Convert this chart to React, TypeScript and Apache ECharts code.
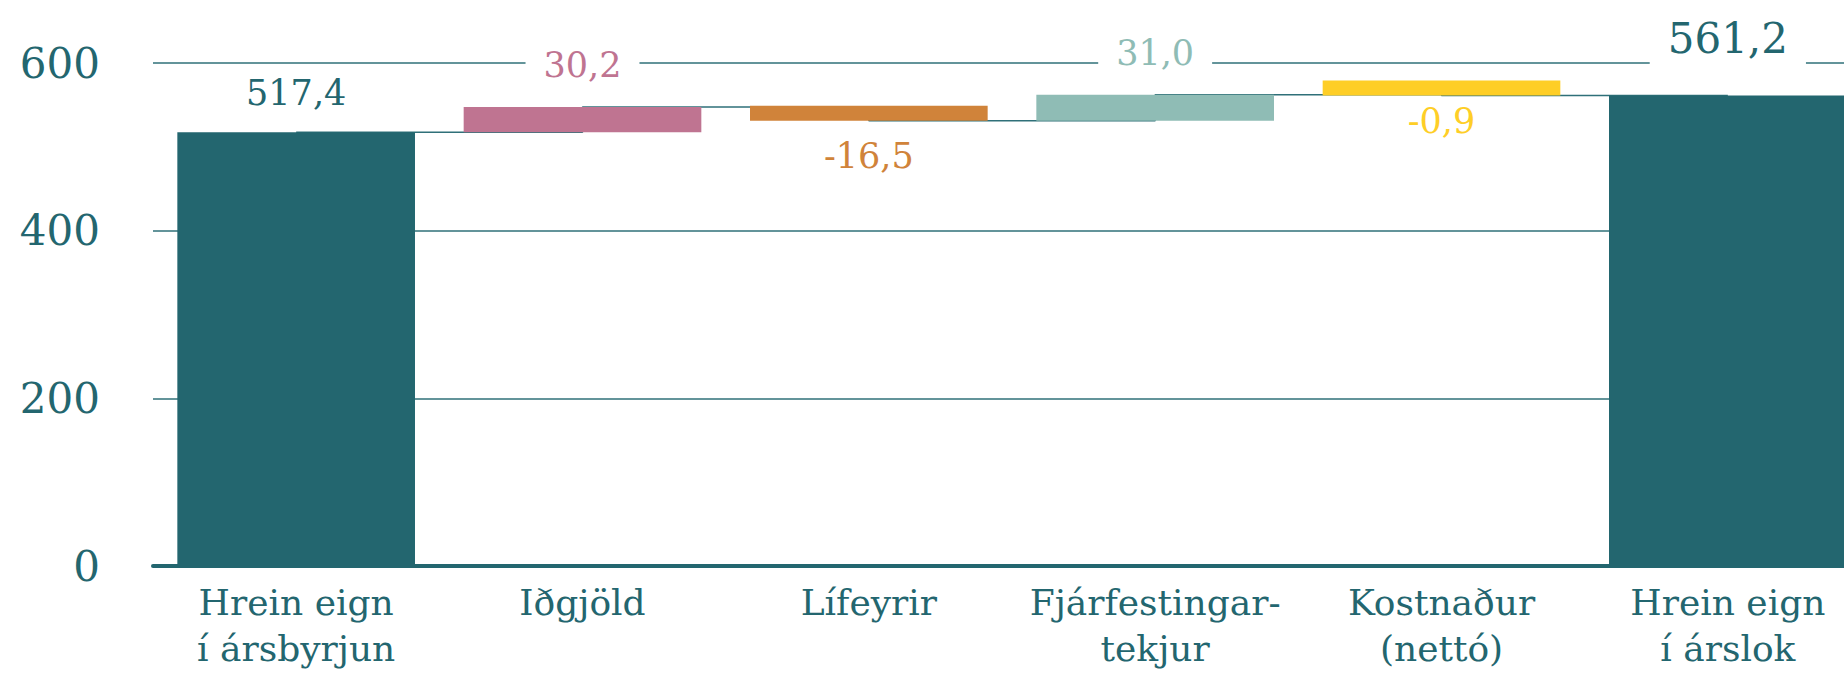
import { useEffect, useRef } from 'react';
import * as echarts from 'echarts';

const categories = [
  'Hrein eign\ní ársbyrjun',
  'Iðgjöld',
  'Lífeyrir',
  'Fjárfestingar-\ntekjur',
  'Kostnaður\n(nettó)',
  'Hrein eign\ní árslok',
];
const startValue = 517.4;
const changes = [30.2, -16.5, 31.0, -0.9];
const endValue = 561.2;
const yTicks = { min: 0, max: 600, interval: 200 };
const barColors = ['#23666F', '#BF7491', '#D0833A', '#8FBCB5', '#FECE26', '#23666F'];

const TEAL = '#23666F';
const FONT = 'DejaVu Serif';

function fmt(v: number) {
  return v.toFixed(1).replace('.', ',');
}

export default function App() {
  const ref = useRef<HTMLDivElement>(null);
  useEffect(() => {
    const chart = echarts.init(ref.current!, null, { renderer: 'svg' });

    const bases: number[] = [0];
    const heights: number[] = [startValue];
    const signed: number[] = [startValue];
    const totals: number[] = [startValue];
    let run = startValue;
    changes.forEach((c) => {
      const next = Math.round((run + c) * 10) / 10;
      bases.push(Math.min(run, next));
      heights.push(Math.abs(c));
      signed.push(c);
      totals.push(next);
      run = next;
    });
    bases.push(0);
    heights.push(endValue);
    signed.push(endValue);
    totals.push(endValue);

    const n = categories.length;
    const visible = heights.map((h, i) => {
      const isTotal = i === 0 || i === n - 1;
      const neg = signed[i] < 0;
      let distance = 22;
      let fontSize = 35;
      let padding: number[] = [2, 18];
      if (i === 0) distance = 20;
      if (i === n - 1) {
        distance = 20;
        fontSize = 42;
        padding = [4, 18, 16, 18];
      }
      if (neg) distance = i === 4 ? 6 : 16;
      return {
        value: h,
        itemStyle: { color: barColors[i] },
        label: {
          show: true,
          position: neg ? 'bottom' : 'top',
          distance,
          color: isTotal ? TEAL : barColors[i],
          fontSize,
          fontFamily: FONT,
          backgroundColor: '#ffffff',
          padding,
          formatter: () => fmt(signed[i]),
        },
      };
    });

    chart.setOption({
      animation: false,
      textStyle: { fontFamily: FONT },
      grid: {
        left: 153,
        top: 63,
        bottom: 111,
        width: 1718,
        containLabel: false,
        outerBoundsMode: 'none',
      },
      xAxis: {
        type: 'category',
        data: categories,
        axisLine: { show: true, lineStyle: { color: TEAL, width: 4 } },
        axisTick: { show: false },
        axisLabel: {
          interval: 0,
          color: TEAL,
          fontFamily: FONT,
          fontSize: 36,
          lineHeight: 46,
          margin: 13,
        },
        splitLine: { show: false },
      },
      yAxis: {
        type: 'value',
        min: yTicks.min,
        max: yTicks.max,
        interval: yTicks.interval,
        axisLine: { show: false },
        axisTick: { show: false },
        axisLabel: {
          color: TEAL,
          fontFamily: FONT,
          fontSize: 42,
          margin: 53,
        },
        splitLine: { show: true, lineStyle: { color: '#2f7079', width: 1.5 } },
      },
      series: [
        {
          type: 'line',
          data: totals,
          step: 'end',
          symbol: 'none',
          silent: true,
          z: 1,
          lineStyle: { color: '#2f7079', width: 1.5 },
        },
        {
          type: 'bar',
          stack: 'w',
          data: bases,
          barWidth: '83%',
          silent: true,
          z: 2,
          itemStyle: { color: 'rgba(0,0,0,0)' },
        },
        {
          type: 'bar',
          stack: 'w',
          data: visible,
          barWidth: '83%',
          barMinHeight: 15,
          z: 2,
        },
      ],
    });
    return () => chart.dispose();
  }, []);
  return (
    <div
      ref={ref}
      style={{ position: 'absolute', left: 0, top: 0, width: 1844, height: 677, background: '#fff' }}
    />
  );
}
